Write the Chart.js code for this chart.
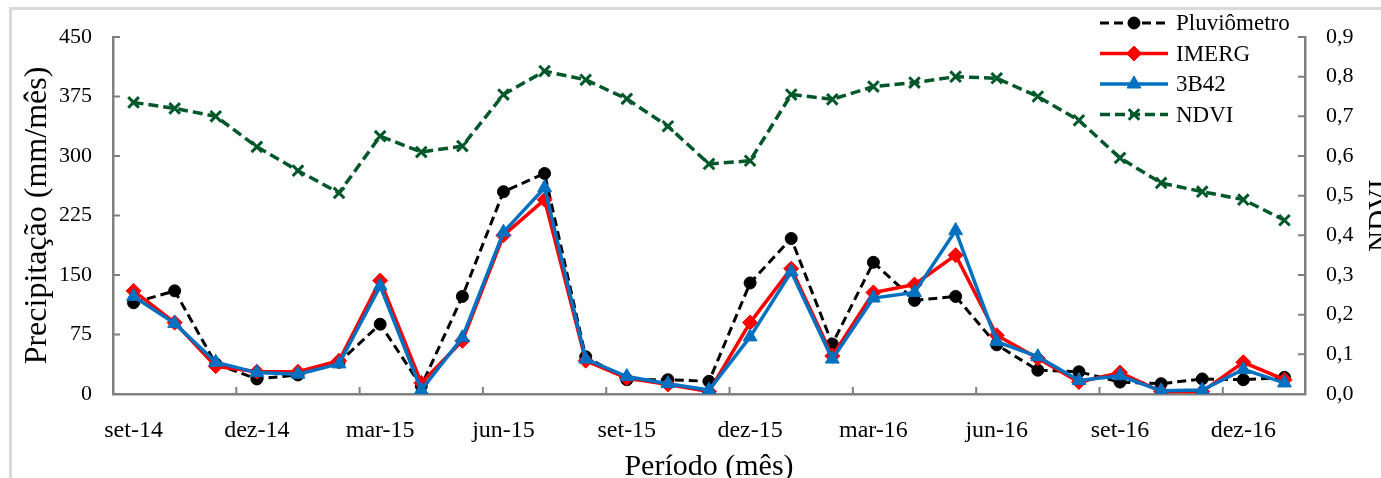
<!DOCTYPE html>
<html>
<head>
<meta charset="utf-8">
<script src="https://cdn.jsdelivr.net/npm/chart.js@4.4.1/dist/chart.umd.min.js"></script>
<style>
body { margin: 0; background: #fff; }
#wrap { position: relative; width: 1381px; height: 478px; overflow: hidden; }
#frame { position: absolute; left: 9px; top: 7px; width: 1400px; height: 500px; border-top: 3px solid #d9d9d9; border-left: 3px solid #d9d9d9; }
canvas { position: absolute; left: 0; top: 0; }
</style>
</head>
<body>
<div id="wrap">
  <div id="frame"></div>
  <canvas id="myChart" width="1381" height="478"></canvas>
</div>
<script>
const meses = ['set-14','out-14','nov-14','dez-14','jan-15','fev-15','mar-15','abr-15','mai-15','jun-15','jul-15','ago-15',
  'set-15','out-15','nov-15','dez-15','jan-16','fev-16','mar-16','abr-16','mai-16','jun-16','jul-16','ago-16',
  'set-16','out-16','nov-16','dez-16','jan-17']
const pluviometro = [115,130,38,19,24,40,88,10,123,255,278,47,18,18,16,140,196,63,166,118,123,62,30,28,15,13,19,18,21]
const imerg = [130,90,35,28,28,42,143,14,67,200,245,42,20,12,3,90,158,48,128,138,175,74,45,15,27,3,3,40,18]
const b42 = [123,89,40,27,25,38,136,5,71,204,260,44,22,13,5,72,154,44,121,128,206,66,47,17,23,4,5,31,14]
const ndvi = [0.735,0.72,0.70,0.623,0.563,0.507,0.65,0.61,0.625,0.755,0.814,0.792,0.744,0.675,0.58,0.588,0.755,0.743,0.775,0.785,0.80,0.796,0.75,0.69,0.595,0.532,0.51,0.49,0.438]

const FONT = 'Liberation Serif'
const AXIS_GRAY = '#808080'

Chart.defaults.color = '#000'
Chart.defaults.font.family = FONT

// excel style inside tick marks, legend and the right axis title
const extras = {
  id: 'extras',
  beforeDatasetsDraw(chart) {
    const ctx = chart.ctx
    const area = chart.chartArea
    const x = chart.scales.x, y = chart.scales.y, y1 = chart.scales.y1
    ctx.save()
    ctx.strokeStyle = AXIS_GRAY
    ctx.lineWidth = 2
    ctx.beginPath()
    y.ticks.forEach(t => {
      const p = y.getPixelForValue(t.value)
      ctx.moveTo(area.left, p); ctx.lineTo(area.left + 7, p)
    })
    y1.ticks.forEach(t => {
      const p = y1.getPixelForValue(t.value)
      ctx.moveTo(area.right, p); ctx.lineTo(area.right - 7, p)
    })
    const half = (x.getPixelForValue(1) - x.getPixelForValue(0)) / 2
    for (let i = 3; i < meses.length; i += 3) {
      const p = x.getPixelForValue(i) - half
      ctx.moveTo(p, area.bottom); ctx.lineTo(p, area.bottom - 7)
    }
    ctx.stroke()
    ctx.restore()
  },
  afterDraw(chart) {
    const ctx = chart.ctx
    ctx.save()
    // right axis title, reading bottom to top
    ctx.translate(1380, (chart.chartArea.top + chart.chartArea.bottom) / 2)
    ctx.rotate(-Math.PI / 2)
    ctx.font = '29px ' + FONT
    ctx.fillStyle = '#000'
    ctx.textAlign = 'center'
    ctx.textBaseline = 'middle'
    ctx.fillText('NDVI', 0, 0)
    ctx.restore()

    // legend
    ctx.save()
    chart.data.datasets.forEach((ds, k) => {
      const ly = 23 + k * 30.5
      const x0 = 1100, x1 = 1168
      ctx.strokeStyle = ds.borderColor
      ctx.fillStyle = ds.pointBackgroundColor
      ctx.lineWidth = ds.borderWidth
      ctx.setLineDash(ds.borderDash || [])
      ctx.beginPath(); ctx.moveTo(x0, ly); ctx.lineTo(x1, ly); ctx.stroke()
      ctx.setLineDash([])
      ctx.lineWidth = ds.pointBorderWidth
      Chart.helpers.drawPoint(ctx, {
        pointStyle: ds.pointStyle, radius: ds.pointRadius, rotation: 0,
        borderWidth: ds.pointBorderWidth
      }, (x0 + x1) / 2, ly)
      ctx.fillStyle = '#000'
      ctx.font = '23px ' + FONT
      ctx.textAlign = 'left'
      ctx.textBaseline = 'middle'
      ctx.fillText(ds.label, 1176, ly + 1)
    })
    ctx.restore()
  }
}

function makeChart() {
  const ctx = document.getElementById('myChart')
  const datasets = [
    {
      label: 'Pluviômetro', data: pluviometro, yAxisID: 'y', order: 3,
      borderColor: '#000', backgroundColor: '#000', borderWidth: 3, borderDash: [9, 5],
      pointStyle: 'circle', pointRadius: 6, pointBackgroundColor: '#000', pointBorderColor: '#000', pointBorderWidth: 1
    },
    {
      label: 'IMERG', data: imerg, yAxisID: 'y', order: 2,
      borderColor: '#ff0000', backgroundColor: '#ff0000', borderWidth: 3.5,
      pointStyle: 'rectRot', pointRadius: 7.5, pointBackgroundColor: '#ff0000', pointBorderColor: '#ff0000', pointBorderWidth: 1
    },
    {
      label: '3B42', data: b42, yAxisID: 'y', order: 1,
      borderColor: '#0070c0', backgroundColor: '#0070c0', borderWidth: 3.5,
      pointStyle: 'triangle', pointRadius: 8, pointBackgroundColor: '#0070c0', pointBorderColor: '#0070c0', pointBorderWidth: 1
    },
    {
      label: 'NDVI', data: ndvi, yAxisID: 'y1', order: 0,
      borderColor: '#00582a', backgroundColor: '#00582a', borderWidth: 3.5, borderDash: [10, 5],
      pointStyle: 'crossRot', pointRadius: 7.5, pointBackgroundColor: '#00582a', pointBorderColor: '#00582a', pointBorderWidth: 3
    }
  ]
  new Chart(ctx, {
    type: 'line',
    data: { labels: meses, datasets: datasets },
    plugins: [extras],
    options: {
      responsive: false,
      animation: false,
      layout: { padding: { left: 20, right: 0, top: 37, bottom: 0 } },
      elements: { line: { tension: 0 } },
      plugins: { legend: { display: false }, tooltip: { enabled: false } },
      scales: {
        x: {
          type: 'category',
          offset: true,
          grid: { display: false, drawTicks: false },
          border: { display: true, color: AXIS_GRAY, width: 2.5 },
          ticks: {
            autoSkip: false, maxRotation: 0, padding: 22,
            font: { size: 24, family: FONT },
            callback: function (v, i) { return i % 3 === 0 ? meses[i] : '' }
          },
          title: { display: true, text: 'Período (mês)', padding: 0, font: { size: 30, family: FONT, lineHeight: 0.75 } },
          afterFit(scale) { scale.height = 84 }
        },
        y: {
          position: 'left', min: 0, max: 450,
          grid: { display: false, drawTicks: false },
          border: { display: true, color: AXIS_GRAY, width: 2.5 },
          ticks: { stepSize: 75, padding: 21, font: { size: 22, family: FONT } },
          title: { display: true, text: 'Precipitação (mm/mês)', padding: 0, font: { size: 32, family: FONT, lineHeight: 1.1 } },
          afterFit(scale) { scale.width = 93 }
        },
        y1: {
          position: 'right', min: 0, max: 0.9,
          grid: { display: false, drawTicks: false },
          border: { display: true, color: AXIS_GRAY, width: 2.5 },
          ticks: {
            stepSize: 0.1, padding: 21, font: { size: 22, family: FONT },
            callback: v => v.toFixed(1).replace('.', ',')
          },
          afterFit(scale) { scale.width = 76 }
        }
      }
    }
  })
}

makeChart()
</script>
</body>
</html>
